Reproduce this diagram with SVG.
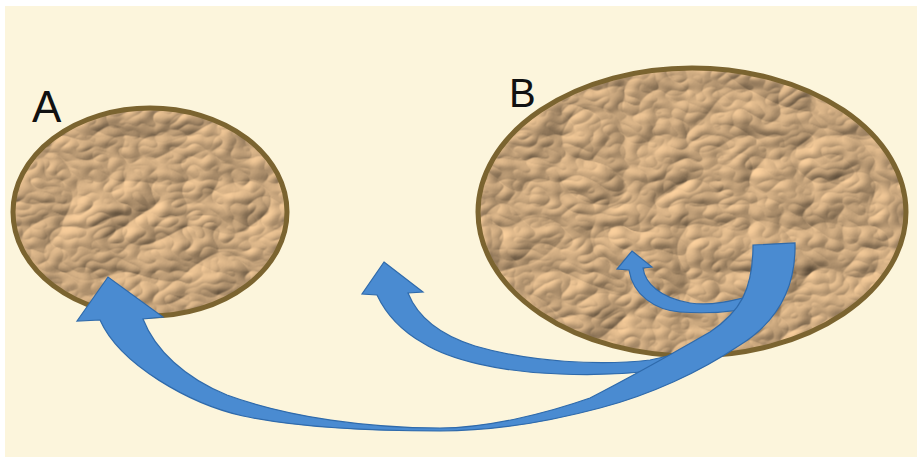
<svg xmlns="http://www.w3.org/2000/svg" width="917" height="457" viewBox="0 0 917 457">
  <style>
    .lbl { font-family: "Liberation Sans", Arial, sans-serif; fill: #111; }
    .rim { fill: none; stroke: #7b6430; stroke-width: 5; }
    .arrow { fill: #4a8bd1; stroke: #2f6aab; stroke-width: 1.2; stroke-linejoin: miter; }
  </style>
  <defs>
    <filter id="crumple" x="-5%" y="-5%" width="110%" height="110%" color-interpolation-filters="sRGB">
      <feTurbulence type="turbulence" baseFrequency="0.016 0.022" numOctaves="3" seed="11" result="n"/>
      <feDiffuseLighting in="n" surfaceScale="4" diffuseConstant="1.2" lighting-color="#dcb689" result="lit">
        <feDistantLight azimuth="225" elevation="48"/>
      </feDiffuseLighting>
      <feComposite in="lit" in2="SourceGraphic" operator="in"/>
    </filter>
  </defs>

  <rect x="0" y="0" width="917" height="457" fill="#ffffff"/>
  <rect x="5" y="6" width="912" height="451" fill="#fcf5dc"/>

  <g id="nodeA">
    <ellipse cx="150" cy="212" rx="137" ry="104" fill="#c4a27a" filter="url(#crumple)"/>
    <ellipse class="rim" cx="150" cy="212" rx="137" ry="104"/>
    <text class="lbl" x="32" y="122" font-size="44">A</text>
  </g>

  <g id="nodeB">
    <ellipse cx="692" cy="212" rx="214" ry="144" fill="#c4a27a" filter="url(#crumple)"/>
    <ellipse class="rim" cx="692" cy="212" rx="214" ry="144"/>
    <text class="lbl" x="509" y="107" font-size="40">B</text>
  </g>

  <g id="connectors">
    <!-- B to outside -->
    <path class="arrow" d="M 384 262 L 423 292 L 408 293
      C 418 318, 440 335, 475 346
      C 530 362, 600 366, 650 360
      L 705 348 L 710 362
      C 650 374, 600 376, 560 374
      C 500 372, 450 360, 423 343
      C 400 330, 385 312, 377 295
      L 362 294 Z"/>
    <!-- B to B -->
    <path class="arrow" d="M 632 251 L 652 267 L 643 268
      C 645 283, 660 298, 690 303
      C 710 306, 730 302, 765 292
      L 768 304
      C 740 312, 710 314, 680 312
      C 655 310, 633 295, 629 270
      L 617 269 Z"/>
    <!-- B to A -->
    <path class="arrow" d="M 753 245 L 795 243
      C 796 285, 780 320, 740 345
      C 700 372, 650 395, 600 408
      C 540 424, 490 431, 440 431
      C 370 431, 300 428, 243 416
      C 190 404, 120 365, 100 320
      L 77 321 L 108 277 L 163 317 L 143 319
      C 155 350, 185 378, 227 395
      C 290 418, 370 428, 440 428
      C 490 428, 550 412, 590 398
      C 625 380, 670 355, 710 332
      C 740 312, 753 290, 753 245 Z"/>
  </g>
</svg>
